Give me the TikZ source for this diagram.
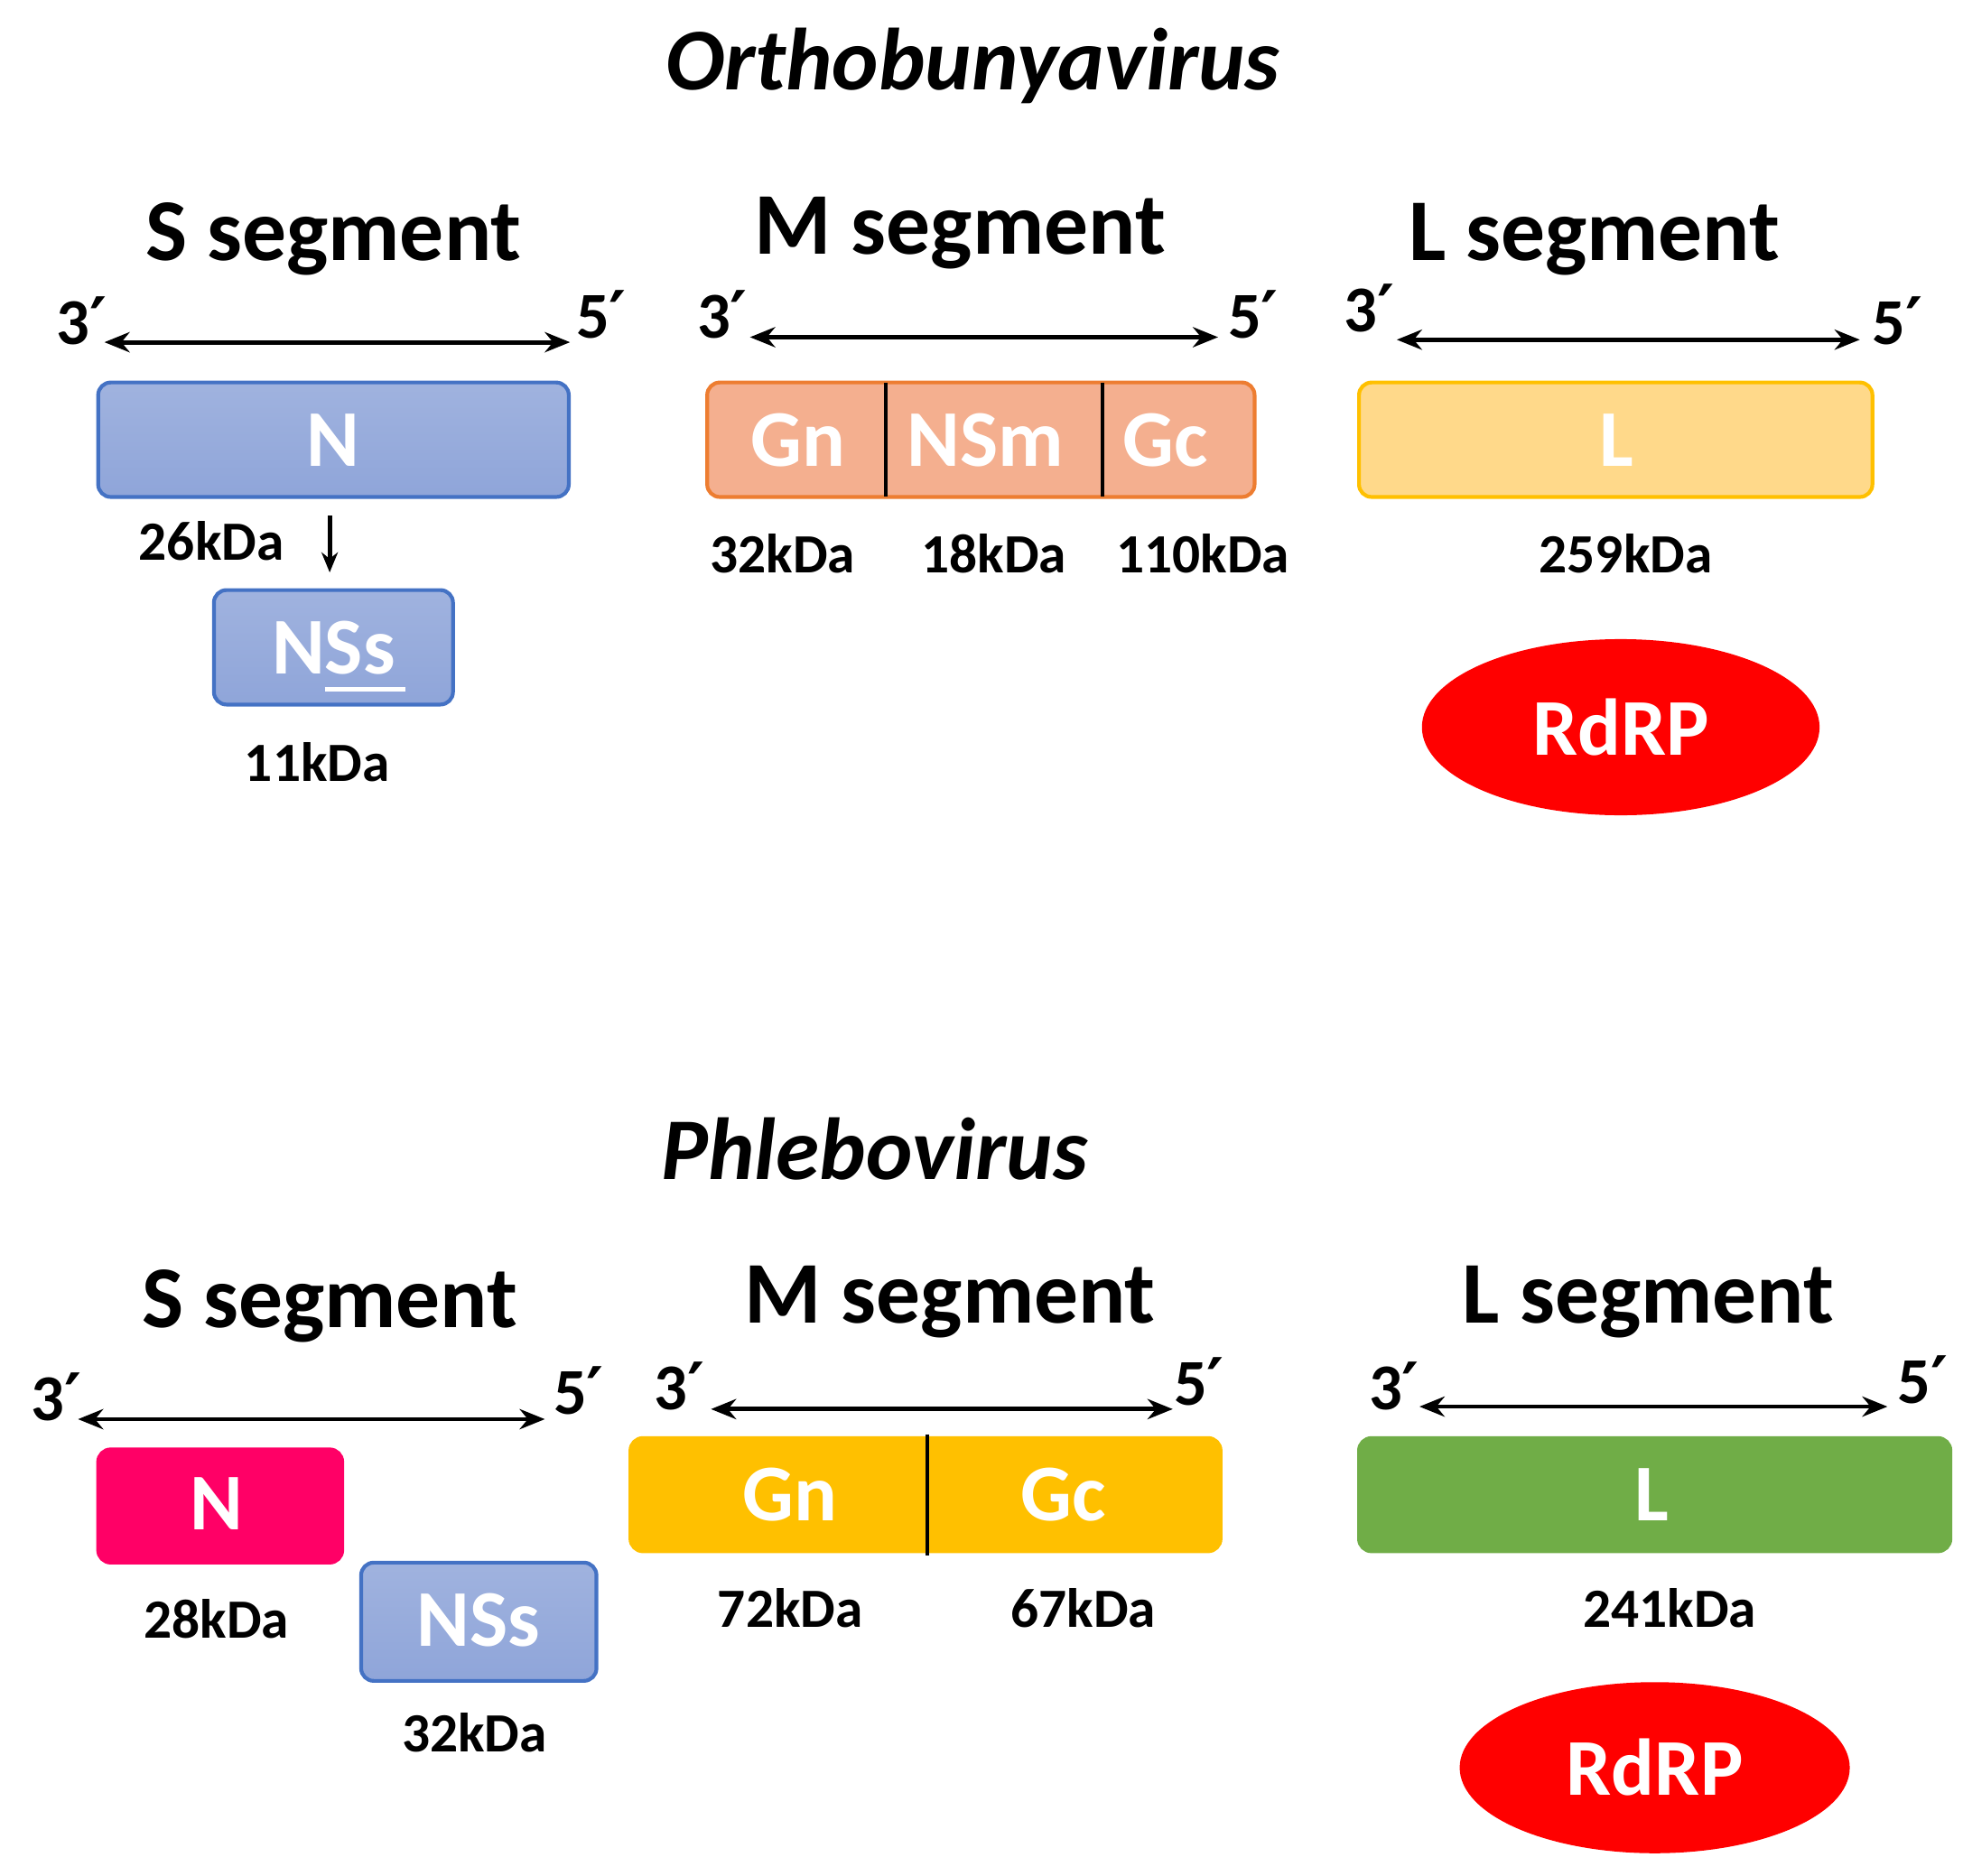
\documentclass[tikz,border=0pt]{standalone}
\usepackage{fontspec}
\setmainfont{Carlito}
\newfontfamily\djv{DejaVu Sans}
\newcommand{\pr}{{\djv\bfseries ′}}
\usetikzlibrary{arrows.meta}
\definecolor{nblue}{HTML}{8FA5D9}\definecolor{bblue}{HTML}{4472C4}
\definecolor{morange}{HTML}{F4AF8F}\definecolor{borange}{HTML}{ED7D31}
\definecolor{lyellow}{HTML}{FFD98A}\definecolor{byellow}{HTML}{FFC000}
\definecolor{npink}{HTML}{FF0066}\definecolor{lgreen}{HTML}{70AD47}
\tikzset{
 seg/.style={font=\bfseries\fontsize{70}{74}\selectfont},
 ttl/.style={font=\bfseries\itshape\fontsize{70}{74}\selectfont},
 end/.style={font=\bfseries\fontsize{52}{56}\selectfont,inner sep=0pt},
 kda/.style={font=\bfseries\fontsize{44}{48}\selectfont},
 inbox/.style={text=white,font=\bfseries\fontsize{64}{68}\selectfont},
 boxx/.style={rounded corners=10pt,line width=3pt},
 dbl/.style={{Stealth[length=20pt,width=16pt]}-{Stealth[length=20pt,width=16pt]},line width=3.5pt},
}
\begin{document}
\begin{tikzpicture}[x=1pt,y=-1pt]
\useasboundingbox (0,0) rectangle (1560,1491);
% top
\node[ttl] (t1) at (773,52) {Orthobunyavirus};
\node[seg] (s1) at (265,190) {S segment};
\node[seg] (m1) at (763,185) {M segment};
\node[seg] (l1) at (1267,190) {L segment};
\coordinate (sa1) at (83,272); \coordinate (sb1) at (453,272);
\draw[dbl] (sa1) -- (sb1);
\node[end] at (65,255) {3\pr}; \node[end] at (478,250) {5\pr};
\coordinate (ma1) at (596,268); \coordinate (mb1) at (968,268);
\draw[dbl] (ma1) -- (mb1);
\node[end] at (574,250) {3\pr}; \node[end] at (996,250) {5\pr};
\coordinate (la1) at (1110,270); \coordinate (lb1) at (1478,270);
\draw[dbl] (la1) -- (lb1);
\node[end] at (1088,245) {3\pr}; \node[end] at (1508,255) {5\pr};
\draw[boxx,draw=bblue,top color=nblue!85!white,bottom color=nblue] (78,304) rectangle (452,395);
\node[inbox] (n1) at (265,350) {N};
\node[kda] at (168,430) {26kDa};
\coordinate (ar1) at (262,410); \coordinate (ar2) at (262,455);
\draw[-{Stealth[length=16pt,width=13pt]},line width=3.5pt] (ar1) -- (ar2);
\draw[boxx,draw=bblue,top color=nblue!85!white,bottom color=nblue] (170,469) rectangle (360,560);
\node[inbox] (nss1) at (265,515) {NSs};
\draw[white,line width=3.5pt] (258,548) -- (322,548);
\node[kda] at (252,606) {11kDa};
\draw[boxx,draw=borange,fill=morange] (562,304) rectangle (997,395);
\draw[line width=2.5pt] (704,304) -- (704,395) (876,304) -- (876,395);
\node[inbox] at (634,350) {Gn}; \node[inbox] at (783,350) {NSm}; \node[inbox] at (926,350) {Gc};
\node[kda] at (622,440) {32kDa}; \node[kda] at (790,440) {18kDa}; \node[kda] at (956,440) {110kDa};
\draw[boxx,draw=byellow,fill=lyellow] (1080,304) rectangle (1488,395);
\node[inbox] at (1285,350) {L};
\node[kda] at (1292,440) {259kDa};
\fill[red] (1288,578) ellipse [x radius=158,y radius=70];
\node[inbox] (r1) at (1288,578) {RdRP};
% bottom
\node[ttl] (t2) at (695,913) {Phlebovirus};
\node[seg] at (262,1038) {S segment};
\node[seg] at (755,1035) {M segment};
\node[seg] at (1310,1035) {L segment};
\coordinate (sa2) at (62,1128); \coordinate (sb2) at (433,1128);
\draw[dbl] (sa2) -- (sb2);
\node[end] at (45,1110) {3\pr}; \node[end] at (460,1105) {5\pr};
\coordinate (ma2) at (565,1120); \coordinate (mb2) at (932,1120);
\draw[dbl] (ma2) -- (mb2);
\node[end] at (540,1102) {3\pr}; \node[end] at (953,1098) {5\pr};
\coordinate (la2) at (1128,1118); \coordinate (lb2) at (1500,1118);
\draw[dbl] (la2) -- (lb2);
\node[end] at (1108,1102) {3\pr}; \node[end] at (1528,1097) {5\pr};
\draw[boxx,draw=npink,fill=npink] (78,1152) rectangle (272,1242);
\node[inbox] at (172,1195) {N};
\node[kda] at (172,1287) {28kDa};
\draw[boxx,draw=bblue,top color=nblue!85!white,bottom color=nblue] (287,1242) rectangle (474,1336);
\node[inbox] at (380,1288) {NSs};
\node[kda] at (377,1377) {32kDa};
\draw[boxx,draw=byellow,fill=byellow] (501,1143) rectangle (970,1233);
\draw[line width=2.5pt] (737,1140) -- (737,1236);
\node[inbox] at (628,1188) {Gn}; \node[inbox] at (845,1188) {Gc};
\node[kda] at (628,1278) {72kDa}; \node[kda] at (861,1278) {67kDa};
\draw[boxx,draw=lgreen,fill=lgreen] (1080,1143) rectangle (1550,1233);
\node[inbox] at (1313,1188) {L};
\node[kda] at (1327,1278) {241kDa};
\fill[red] (1315,1405) ellipse [x radius=155,y radius=68];
\node[inbox] at (1315,1405) {RdRP};
\end{tikzpicture}
\end{document}
